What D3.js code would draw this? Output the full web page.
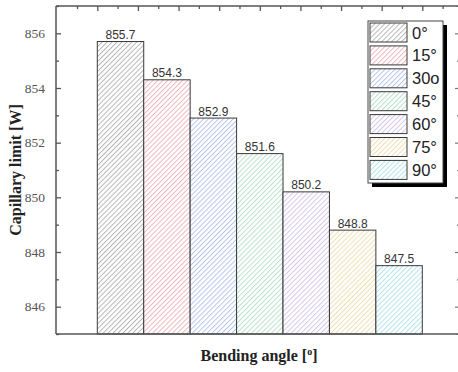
<!DOCTYPE html>
<html>
<head>
<meta charset="utf-8">
<script src="https://cdn.jsdelivr.net/npm/d3@7"></script>
</head>
<body style="margin:0;background:#fff">
<svg id="chart" width="458" height="372" style="display:block" font-family="Liberation Serif, Times New Roman, serif"></svg>
<script>
// Capillary limit for each bending angle
const categories = ["0°", "15°", "30o", "45°", "60°", "75°", "90°"];
const values = [855.7, 854.3, 852.9, 851.6, 850.2, 848.8, 847.5];
const hatchColors = ["#b0b0b0", "#eeb0b7", "#afc1ea", "#b3e0c8", "#d2c2ea", "#eedcad", "#ade2ea"];
const yMajorTicks = [846, 848, 850, 852, 854, 856];
const yMinorTicks = [845, 847, 849, 851, 853, 855, 857];
const topMajorTicks = [0, 1, 2, 3, 4, 5, 6, 7, 8];
const topMinorTicks = [-0.5, 0.5, 1.5, 2.5, 3.5, 4.5, 5.5, 6.5, 7.5, 8.5];

const SANS = "Liberation Sans, Arial, sans-serif";

const frame = { left: 56, right: 459, top: 6, bottom: 334 };
const barLeft = 97.3, barRight = 422.3;

const svg = d3.select("#chart");

const x = d3.scaleBand().domain(categories).range([barLeft, barRight]).padding(0);
const y = d3.scaleLinear().domain([845, 857]).range([frame.bottom, frame.top]);
const xTop = d3.scaleLinear().domain([0, 8]).range([barLeft, barRight]);

const axisColor = "#555";

// axis titles (inherit the serif family from the svg)
svg.append("text")
  .attr("transform", "translate(21,170) rotate(-90)")
  .attr("text-anchor", "middle")
  .attr("font-size", 16)
  .attr("font-weight", "bold")
  .attr("fill", "#222")
  .text("Capillary limit [W]");

const xt = svg.append("text")
  .attr("x", 259).attr("y", 361)
  .attr("text-anchor", "middle")
  .attr("font-size", 16)
  .attr("font-weight", "bold")
  .attr("fill", "#222");
xt.append("tspan").text("Bending angle [");
xt.append("tspan").attr("font-size", 10).attr("dy", -6).text("o");
xt.append("tspan").attr("dy", 6).text("]");

// left axis
const leftAxis = svg.append("g").attr("transform", `translate(${frame.left},0)`)
  .call(d3.axisLeft(y).tickValues(yMajorTicks).tickSize(-5).tickPadding(11).tickFormat(d3.format("d")));
leftAxis.attr("font-family", null).attr("font-size", 13.5);
leftAxis.select(".domain").remove();
leftAxis.selectAll("line").attr("stroke", axisColor).attr("stroke-width", 1.3);
leftAxis.selectAll("text").attr("fill", "#555");
const leftMinor = svg.append("g").attr("transform", `translate(${frame.left},0)`)
  .call(d3.axisLeft(y).tickValues(yMinorTicks).tickSize(-3).tickFormat(""));
leftMinor.attr("font-family", null);
leftMinor.select(".domain").remove();
leftMinor.selectAll("line").attr("stroke", axisColor).attr("stroke-width", 1.3);

// diagonal hatch patterns, one per angle
const hs = 3.5;
const defs = svg.append("defs");
hatchColors.forEach((c, i) => {
  const p = defs.append("pattern")
    .attr("id", "hatch" + i)
    .attr("patternUnits", "userSpaceOnUse")
    .attr("width", hs).attr("height", hs)
    .attr("patternTransform", "rotate(45)");
  p.append("rect").attr("width", hs).attr("height", hs).attr("fill", "#fff");
  p.append("line").attr("x1", 0.5).attr("y1", 0).attr("x2", 0.5).attr("y2", hs)
    .attr("stroke", c).attr("stroke-width", 0.9);
});

// bars
svg.append("g").selectAll("rect")
  .data(values)
  .join("rect")
  .attr("x", (d, i) => x(categories[i]))
  .attr("y", d => y(d))
  .attr("width", x.bandwidth())
  .attr("height", d => y(845) - y(d))
  .attr("fill", (d, i) => `url(#hatch${i})`)
  .attr("stroke", "#3a3a3a")
  .attr("stroke-width", 1);

// value labels
svg.append("g").attr("font-family", SANS).attr("font-size", 12)
  .selectAll("text")
  .data(values)
  .join("text")
  .attr("x", (d, i) => x(categories[i]) + x.bandwidth() / 2)
  .attr("y", d => y(d) - 2.5)
  .attr("text-anchor", "middle")
  .attr("fill", "#333")
  .text(d => d.toFixed(1));

// right axis (ticks only)
[[yMajorTicks, 4], [yMinorTicks, 2]].forEach(([vals, len]) => {
  const g = svg.append("g").attr("transform", `translate(${frame.right},0)`)
    .call(d3.axisRight(y).tickValues(vals).tickSize(-len).tickFormat(""));
  g.select(".domain").remove();
  g.selectAll("line").attr("stroke", "#777").attr("stroke-width", 1.2);
});

// top axis (ticks only)
[[topMajorTicks, 5], [topMinorTicks, 3]].forEach(([vals, len]) => {
  const g = svg.append("g").attr("transform", `translate(0,${frame.top})`)
    .call(d3.axisTop(xTop).tickValues(vals).tickSize(-len).tickFormat(""));
  g.select(".domain").remove();
  g.selectAll("line").attr("stroke", axisColor).attr("stroke-width", 1.3);
});

// frame lines
const fr = svg.append("g").attr("stroke", axisColor).attr("stroke-width", 1.5).attr("fill", "none");
fr.append("line").attr("x1", frame.left).attr("x2", frame.left).attr("y1", frame.top).attr("y2", frame.bottom);
fr.append("line").attr("x1", frame.left).attr("x2", frame.right).attr("y1", frame.top).attr("y2", frame.top);
fr.append("line").attr("x1", frame.left).attr("x2", frame.right).attr("y1", frame.bottom).attr("y2", frame.bottom);

// legend
const leg = { x: 368, y: 21, w: 75, h: 162, shadow: 4 };
const lg = svg.append("g");
lg.append("rect")
  .attr("x", leg.x + leg.shadow).attr("y", leg.y + leg.shadow)
  .attr("width", leg.w).attr("height", leg.h).attr("fill", "#000");
lg.append("rect")
  .attr("x", leg.x).attr("y", leg.y).attr("width", leg.w).attr("height", leg.h)
  .attr("fill", "#fff").attr("stroke", "#444").attr("stroke-width", 1);
const items = lg.selectAll("g.item").data(categories).join("g")
  .attr("class", "item")
  .attr("font-family", SANS)
  .attr("transform", (d, i) => `translate(${leg.x + 2},${leg.y + 2 + i * 22.9})`);
items.append("rect")
  .attr("width", 37).attr("height", 19)
  .attr("fill", (d, i) => `url(#hatch${i})`)
  .attr("stroke", "#3a3a3a").attr("stroke-width", 1);
items.append("text")
  .attr("x", 42).attr("y", 15.5)
  .attr("font-size", 16.5)
  .attr("fill", "#222")
  .text(d => d);
</script>
</body>
</html>
